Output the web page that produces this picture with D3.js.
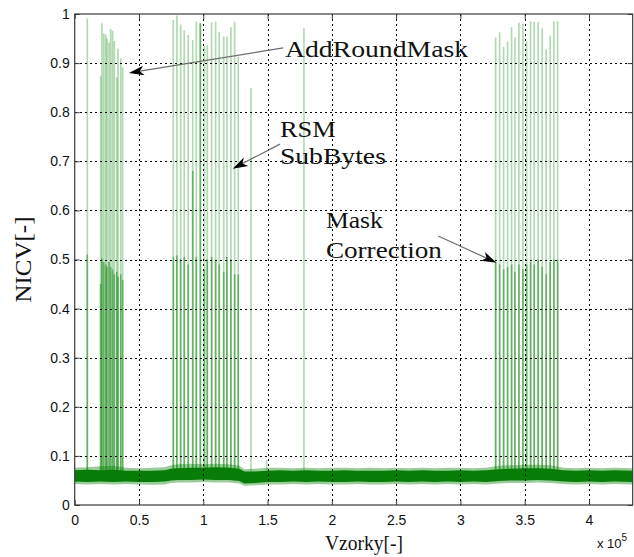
<!DOCTYPE html>
<html>
<head>
<meta charset="utf-8">
<script src="https://cdn.jsdelivr.net/npm/d3@7"></script>
<style>
  body { margin: 0; background: #fff; }
  svg { display: block; }
</style>
</head>
<body>
<svg id="chart" width="634" height="557"></svg>
<script>
// ---- axis ticks ----
const xTicks = [0, 0.5, 1, 1.5, 2, 2.5, 3, 3.5, 4];
const xTickLabels = ["0", "0.5", "1", "1.5", "2", "2.5", "3", "3.5", "4"];
const yTicks = [0, 0.1, 0.2, 0.3, 0.4, 0.5, 0.6, 0.7, 0.8, 0.9, 1];
const yTickLabels = ["0", "0.1", "0.2", "0.3", "0.4", "0.5", "0.6", "0.7", "0.8", "0.9", "1"];
const xMax = 4.34; // samples, x 10^5

// ---- NICV spikes: position (x 10^5 samples), peak value, top of the dense lower part ----
const spikeX = [
  0.098, 0.202, 0.212, 0.226, 0.241, 0.251, 0.267, 0.280, 0.295, 0.308, 0.327, 0.337, 0.358, 0.373,
  0.767, 0.795, 0.824, 0.852, 0.883, 0.918, 0.946, 0.977, 1.009, 1.031, 1.065, 1.096, 1.124, 1.159,
  1.184, 1.215, 1.244, 1.272, 1.371, 1.493, 1.783,
  3.274, 3.305, 3.336, 3.367, 3.398, 3.424, 3.455, 3.486, 3.515, 3.546, 3.574, 3.605, 3.636, 3.667,
  3.698, 3.727, 3.756
];
const spikePeak = [
  0.991, 0.874, 0.981, 0.961, 0.958, 0.950, 0.942, 0.969, 0.966, 0.945, 0.871, 0.929, 0.910, 0.891,
  0.988, 0.997, 0.978, 0.967, 0.957, 0.947, 0.984, 0.981, 0.935, 0.937, 0.983, 0.984, 0.964, 0.954,
  0.954, 0.973, 0.984, 0.913, 0.849, 0.092, 0.971,
  0.952, 0.963, 0.933, 0.944, 0.973, 0.952, 0.982, 0.980, 0.944, 0.985, 0.984, 0.984, 0.971, 0.928,
  0.956, 0.985, 0.985
];
const spikeMid = [
  0.510, 0.450, 0.502, 0.495, 0.490, 0.485, 0.495, 0.485, 0.480, 0.470, 0.475, 0.465, 0.470, 0.458,
  0.505, 0.508, 0.500, 0.505, 0.490, 0.680, 0.505, 0.981, 0.480, 0.500, 0.505, 0.500, 0.490, 0.475,
  0.505, 0.500, 0.470, 0.470, 0, 0, 0,
  0.495, 0.490, 0.480, 0.485, 0.490, 0.475, 0.490, 0.480, 0.490, 0.495, 0.490, 0.500, 0.485, 0.470,
  0.495, 0.500, 0.500
];

// ---- noise floor envelope (solid core and thin fringe) ----
const floorX = [
  0, 0.1, 0.2, 0.3, 0.4, 0.5, 0.6, 0.7, 0.75, 0.8, 0.9, 1.0, 1.1, 1.2, 1.28, 1.32, 1.4, 1.5, 1.6, 1.7,
  1.8, 1.9, 2.0, 2.1, 2.2, 2.3, 2.4, 2.5, 2.6, 2.7, 2.8, 2.9, 3.0, 3.1, 3.2, 3.3, 3.4, 3.5, 3.6, 3.7,
  3.8, 3.9, 4.0, 4.1, 4.2, 4.34
];
const floorCoreHi = [
  0.071, 0.072, 0.071, 0.072, 0.070, 0.070, 0.070, 0.071, 0.074, 0.075, 0.076, 0.076, 0.077, 0.076, 0.074, 0.068, 0.068, 0.070, 0.071, 0.070,
  0.071, 0.070, 0.070, 0.071, 0.070, 0.070, 0.070, 0.071, 0.070, 0.071, 0.070, 0.070, 0.071, 0.070, 0.071, 0.073, 0.074, 0.075, 0.075, 0.074,
  0.071, 0.070, 0.071, 0.070, 0.071, 0.070
];
const floorCoreLo = [
  0.048, 0.047, 0.048, 0.047, 0.048, 0.047, 0.047, 0.048, 0.050, 0.051, 0.051, 0.052, 0.051, 0.051, 0.049, 0.044, 0.045, 0.047, 0.047, 0.048,
  0.047, 0.048, 0.047, 0.047, 0.048, 0.047, 0.047, 0.048, 0.047, 0.048, 0.047, 0.048, 0.047, 0.048, 0.047, 0.049, 0.050, 0.050, 0.051, 0.050,
  0.048, 0.047, 0.048, 0.047, 0.048, 0.047
];
const floorEdgeHi = [
  0.076, 0.077, 0.079, 0.080, 0.076, 0.075, 0.076, 0.077, 0.081, 0.083, 0.084, 0.083, 0.084, 0.083, 0.080, 0.073, 0.074, 0.076, 0.076, 0.075,
  0.076, 0.075, 0.076, 0.076, 0.075, 0.076, 0.075, 0.076, 0.075, 0.076, 0.075, 0.076, 0.076, 0.075, 0.076, 0.080, 0.081, 0.082, 0.082, 0.081,
  0.076, 0.075, 0.076, 0.075, 0.076, 0.075
];
const floorEdgeLo = [
  0.043, 0.042, 0.043, 0.042, 0.043, 0.042, 0.041, 0.042, 0.045, 0.046, 0.046, 0.047, 0.046, 0.046, 0.044, 0.039, 0.040, 0.042, 0.042, 0.043,
  0.042, 0.043, 0.042, 0.042, 0.043, 0.042, 0.042, 0.043, 0.042, 0.043, 0.042, 0.043, 0.042, 0.043, 0.042, 0.044, 0.045, 0.045, 0.046, 0.045,
  0.043, 0.042, 0.043, 0.042, 0.043, 0.042
];
const spikeBase = 0.06;

// ---- annotations: text anchor, arrow tail and arrow tip in data units ----
const notes = [
  { lines: ["AddRoundMask"], widths: [183], tx: 1.636, ty: [0.913], from: [1.622, 0.931], to: [0.422, 0.880] },
  { lines: ["RSM", "SubBytes"], widths: [56, 106], tx: 1.596, ty: [0.750, 0.694], from: [1.596, 0.735], to: [1.229, 0.685] },
  { lines: ["Mask", "Correction"], widths: [57, 116], tx: 1.954, ty: [0.5635, 0.5025], from: [2.827, 0.548], to: [3.281, 0.4935] }
];

// ---- layout ----
const plotL = 74.7, plotR = 632.7, plotT = 14, plotB = 505;
const x = d3.scaleLinear().domain([0, xMax]).range([plotL, plotR]);
const y = d3.scaleLinear().domain([0, 1]).range([plotB, plotT]);

const svg = d3.select("#chart");
const serif = "'Liberation Serif', 'Times New Roman', serif";
const sans = "'Liberation Sans', Arial, Helvetica, sans-serif";
const green = "#008000";

svg.append("rect").attr("width", 634).attr("height", 557).attr("fill", "#fff");

svg.append("defs").append("clipPath").attr("id", "plot")
  .append("rect").attr("x", plotL).attr("y", plotT).attr("width", plotR - plotL).attr("height", plotB - plotT);

const plot = svg.append("g").attr("clip-path", "url(#plot)");

// spikes: faint full-height stroke, then the denser lower part on top
const spikes = spikeX.map((v, i) => ({ x: v, peak: spikePeak[i], mid: spikeMid[i] }));
plot.append("g").selectAll("line").data(spikes).join("line")
  .attr("x1", d => x(d.x)).attr("x2", d => x(d.x))
  .attr("y1", y(spikeBase)).attr("y2", d => y(d.peak))
  .attr("stroke", green).attr("stroke-opacity", 0.3).attr("stroke-width", 1.7);
plot.append("g").selectAll("line").data(spikes.filter(d => d.mid > 0)).join("line")
  .attr("x1", d => x(d.x)).attr("x2", d => x(d.x))
  .attr("y1", y(spikeBase)).attr("y2", d => y(d.mid))
  .attr("stroke", green).attr("stroke-opacity", 0.45).attr("stroke-width", 1.7);

// dotted grid
const grid = svg.append("g").attr("stroke", "#000").attr("stroke-width", 1)
  .attr("stroke-dasharray", "2,3").attr("shape-rendering", "crispEdges");
grid.selectAll(".gx").data(xTicks.filter(t => t > 0)).join("line")
  .attr("x1", d => Math.round(x(d)) + 0.5).attr("x2", d => Math.round(x(d)) + 0.5)
  .attr("y1", plotT).attr("y2", plotB);
grid.selectAll(".gy").data(yTicks.filter(t => t > 0 && t < 1)).join("line")
  .attr("y1", d => Math.round(y(d)) + 0.5).attr("y2", d => Math.round(y(d)) + 0.5)
  .attr("x1", plotL).attr("x2", plotR);

// noise floor
const floor = floorX.map((v, i) => ({ x: v, ch: floorCoreHi[i], cl: floorCoreLo[i], eh: floorEdgeHi[i], el: floorEdgeLo[i] }));
plot.append("path").datum(floor)
  .attr("d", d3.area().x(d => x(d.x)).y0(d => y(d.el)).y1(d => y(d.eh)))
  .attr("fill", green).attr("fill-opacity", 0.4);
plot.append("path").datum(floor)
  .attr("d", d3.area().x(d => x(d.x)).y0(d => y(d.cl)).y1(d => y(d.ch)))
  .attr("fill", "#077c07");

// axes: inward ticks on all four sides
const axisColor = "#3a3a3a";
const gB = svg.append("g").attr("transform", `translate(0,${plotB})`)
  .call(d3.axisBottom(x).tickValues(xTicks).tickFormat((d, i) => xTickLabels[i]).tickSizeInner(-5).tickSizeOuter(0).tickPadding(10));
const gT = svg.append("g").attr("transform", `translate(0,${plotT})`)
  .call(d3.axisTop(x).tickValues(xTicks).tickFormat("").tickSizeInner(-5).tickSizeOuter(0));
const gL = svg.append("g").attr("transform", `translate(${plotL},0)`)
  .call(d3.axisLeft(y).tickValues(yTicks).tickFormat((d, i) => yTickLabels[i]).tickSizeInner(-5).tickSizeOuter(0).tickPadding(5));
const gR = svg.append("g").attr("transform", `translate(${plotR},0)`)
  .call(d3.axisRight(y).tickValues(yTicks).tickFormat("").tickSizeInner(-5).tickSizeOuter(0));
[gB, gT, gL, gR].forEach(g => {
  g.select(".domain").remove();
  g.selectAll(".tick line").attr("stroke", axisColor);
  g.selectAll("text").attr("font-family", sans).attr("font-size", 14).attr("fill", "#111");
});
svg.append("rect").attr("x", plotL).attr("y", plotT).attr("width", plotR - plotL).attr("height", plotB - plotT)
  .attr("fill", "none").attr("stroke", axisColor).attr("stroke-width", 1.2);

// axis titles
svg.append("text").attr("x", 364).attr("y", 550).attr("text-anchor", "middle")
  .attr("font-family", serif).attr("font-size", 21).attr("fill", "#111")
  .attr("textLength", 78).attr("lengthAdjust", "spacingAndGlyphs").text("Vzorky[-]");
svg.append("text").attr("transform", `translate(30.5,${(plotT + plotB) / 2}) rotate(-90)`)
  .attr("text-anchor", "middle").attr("font-family", serif).attr("font-size", 23).attr("fill", "#111")
  .attr("textLength", 86).attr("lengthAdjust", "spacingAndGlyphs").text("NICV[-]");
const expLabel = svg.append("text").attr("x", 597).attr("y", 548)
  .attr("font-family", sans).attr("font-size", 13).attr("fill", "#111");
expLabel.append("tspan").text("x 10");
expLabel.append("tspan").attr("dy", -7).attr("font-size", 10).text("5");

// annotations with arrows
const ann = svg.append("g");
notes.forEach(n => {
  n.lines.forEach((t, i) => {
    ann.append("text").attr("x", x(n.tx)).attr("y", y(n.ty[i]))
      .attr("font-family", serif).attr("font-size", 24).attr("fill", "#111")
      .attr("textLength", n.widths[i]).attr("lengthAdjust", "spacingAndGlyphs").text(t);
  });
  const x0 = x(n.from[0]), y0 = y(n.from[1]), x1 = x(n.to[0]), y1 = y(n.to[1]);
  const ang = Math.atan2(y1 - y0, x1 - x0);
  const ux = Math.cos(ang), uy = Math.sin(ang), px = -uy, py = ux;
  const L = 15, W = 4.8, notch = 11;
  ann.append("line").attr("x1", x0).attr("y1", y0)
    .attr("x2", x1 - ux * notch).attr("y2", y1 - uy * notch)
    .attr("stroke", "#6e6e6e").attr("stroke-width", 1.2);
  const head = [
    [x1, y1],
    [x1 - ux * L + px * W, y1 - uy * L + py * W],
    [x1 - ux * notch, y1 - uy * notch],
    [x1 - ux * L - px * W, y1 - uy * L - py * W]
  ];
  ann.append("path").attr("d", "M" + head.map(p => p.join(",")).join("L") + "Z").attr("fill", "#000");
});
</script>
</body>
</html>
